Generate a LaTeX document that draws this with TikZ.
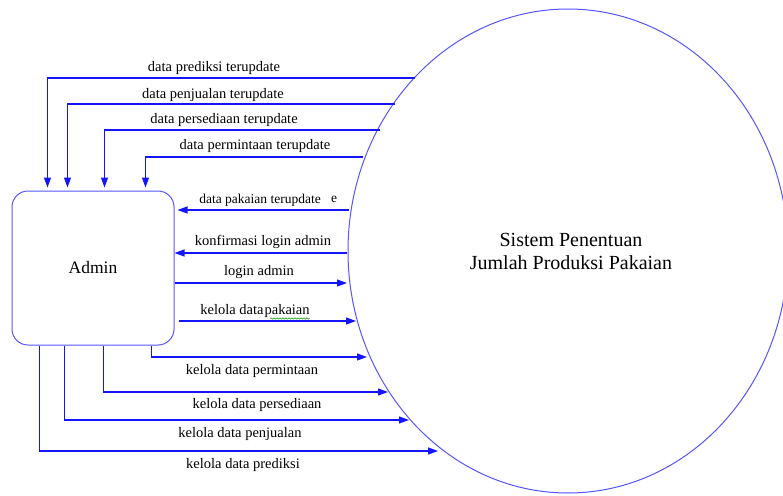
\documentclass[tikz,border=0pt]{standalone}
\usepackage{fontspec}
\setmainfont{Liberation Serif}
\usetikzlibrary{arrows.meta,shapes.geometric,decorations.pathmorphing}
\definecolor{lineblue}{RGB}{20,20,255}
\definecolor{shapeblue}{RGB}{85,85,255}
\tikzset{
 flow/.style={draw=lineblue, line width=1.1pt, -{Triangle[length=10pt,width=7pt]}},
 lbl/.style={font=\fontsize{14.5}{16}\selectfont, text=black, inner sep=0pt},
 slbl/.style={font=\fontsize{13.5}{15}\selectfont, text=black, inner sep=0pt},
}
\begin{document}
\begin{tikzpicture}[x=1pt,y=-1pt]
\useasboundingbox (0,0) rectangle (783,495);
\node[draw=shapeblue, line width=1pt, rounded corners=16pt, minimum width=162pt, minimum height=154pt, inner sep=0pt, font=\fontsize{17.5}{20}\selectfont, text=black] (adm) at (93,268) {Admin};
\node[ellipse, draw=shapeblue, line width=1pt, minimum width=440pt, minimum height=484pt, inner sep=0pt, align=center, font=\fontsize{20}{23}\selectfont, text=black] (sys) at (568,251) {\hspace*{6pt}Sistem Penentuan\\\hspace*{6pt}Jumlah Produksi Pakaian};

\coordinate (e1) at (415,78);
\coordinate (e2) at (395,104);
\coordinate (e3) at (380,130);
\coordinate (e4) at (363,157);
\coordinate (e5) at (349,210);
\coordinate (e6) at (347,253);
\coordinate (e7) at (347,283);
\coordinate (e8) at (356,321);
\coordinate (e9) at (367,357);
\coordinate (e10) at (388,392);
\coordinate (e11) at (409,420);
\coordinate (e12) at (438,451);

\draw[flow] (e1) -| ([xshift=36pt,yshift=3pt]adm.north west);
\draw[flow] (e2) -| ([xshift=56pt,yshift=3pt]adm.north west);
\draw[flow] (e3) -| ([xshift=93pt,yshift=3pt]adm.north west);
\draw[flow] (e4) -| ([xshift=134pt,yshift=3pt]adm.north west);

\draw[flow, shorten >=3pt] (e5) -- (adm.east |- e5);
\draw[flow] (e6) -- (adm.east |- e6);
\draw[flow] (adm.east |- e7) -- (e7);
\draw[flow, shorten <=4pt] (adm.east |- e8) -- (e8);

\draw[flow] ([xshift=140pt]adm.south west) |- (e9);
\draw[flow] ([xshift=92pt]adm.south west) |- (e10);
\draw[flow] ([xshift=53pt]adm.south west) |- (e11);
\draw[flow] ([xshift=28pt]adm.south west) |- (e12);

\node[lbl] (l1) at (214,68) {data prediksi terupdate};
\node[lbl] (l2) at (213,95) {data penjualan terupdate};
\node[lbl] (l3) at (224,120) {data persediaan terupdate};
\node[lbl] (l4) at (255,146) {data permintaan terupdate};
\node[slbl] (l5) at (260,200) {data pakaian terupdate};
\node[slbl] (l5e) at (334,199) {e};
\node[lbl] (l6) at (263,242) {konfirmasi login admin};
\node[lbl] (l7) at (259,272) {login admin};
\node[lbl] (l8) at (255,311) {kelola data\hspace{1pt}pakaian};
\node[lbl] (l9) at (252,371) {kelola data permintaan};
\node[lbl] (l10) at (257,405) {kelola data persediaan};
\node[lbl] (l11) at (240,434) {kelola data penjualan};
\node[lbl] (l12) at (243,465) {kelola data prediksi};

\draw[green!60!black, line width=0.5pt, decorate, decoration={snake, amplitude=0.7pt, segment length=3pt}] (270,318.5) -- (310,318.5);
\end{tikzpicture}
\end{document}
